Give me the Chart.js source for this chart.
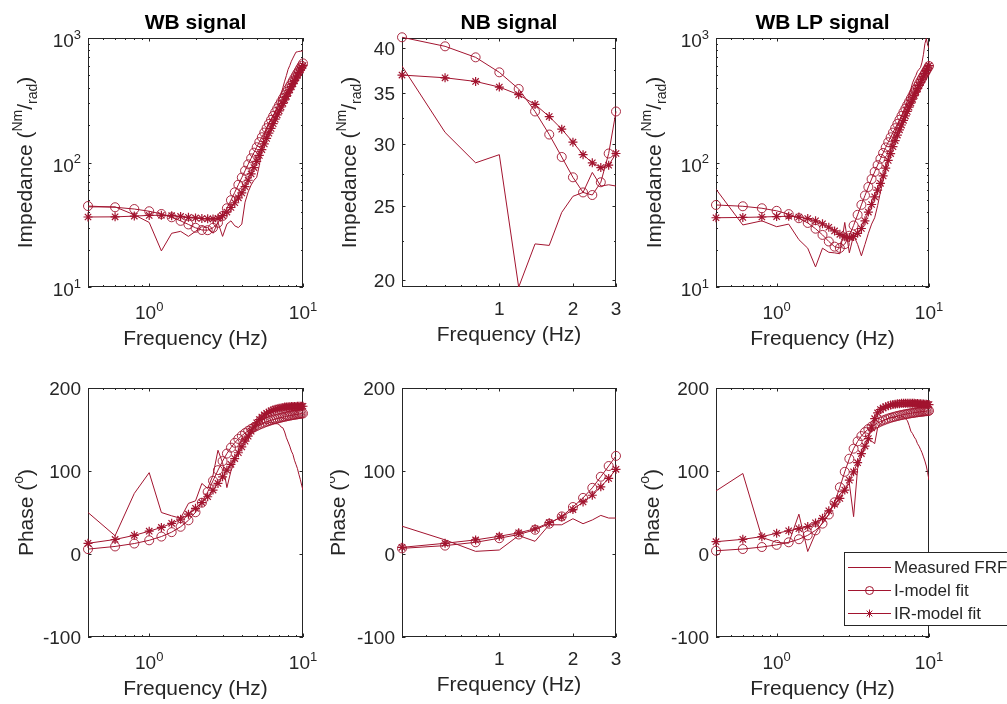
<!DOCTYPE html>
<html>
<head>
<meta charset="utf-8">
<script src="https://cdn.jsdelivr.net/npm/chart.js@4.4.1/dist/chart.umd.min.js"></script>
<style>
  body { margin: 0; background: #fff; width: 1007px; height: 704px; overflow: hidden; position: relative; }
  canvas { position: absolute; }
</style>
</head>
<body>
<canvas id="c1" width="330" height="355" style="left:0;top:0"></canvas>
<canvas id="c2" width="310" height="355" style="left:330px;top:0"></canvas>
<canvas id="c3" width="367" height="355" style="left:640px;top:0"></canvas>
<canvas id="c4" width="330" height="349" style="left:0;top:355px"></canvas>
<canvas id="c5" width="310" height="349" style="left:330px;top:355px"></canvas>
<canvas id="c6" width="367" height="349" style="left:640px;top:355px"></canvas>
<script>
// frequencies (Hz)
const freqWB = [0.4, 0.6, 0.8, 1, 1.2, 1.4, 1.6, 1.8, 2, 2.2, 2.4, 2.6, 2.8, 3, 3.2, 3.4, 3.6, 3.8, 4,
    4.2, 4.4, 4.6, 4.8, 5, 5.2, 5.4, 5.6, 5.8, 6, 6.2, 6.4, 6.6, 6.8, 7, 7.2, 7.4, 7.6, 7.8, 8,
    8.2, 8.4, 8.6, 8.8, 9, 9.2, 9.4, 9.6, 9.8, 10];
const freqNB = [0.4, 0.6, 0.8, 1, 1.2, 1.4, 1.6, 1.8, 2, 2.2, 2.4, 2.6, 2.8, 3];

// WB signal - impedance (Nm/rad)
const wbMagMeasured = [44, 44, 38, 33, 19.5, 27, 28, 25.5, 28, 30.5, 30, 27, 33, 25.5, 32, 34, 31, 30, 32,
    48, 58, 66, 72, 76, 95, 125, 165, 190, 210, 222, 240, 255, 285, 320, 350, 400, 450, 500, 560,
    600, 650, 690, 730, 770, 775, 780, 782, 785, 786];
const wbMagI = [44.7, 43.7, 42.3, 40.6, 38.6, 36.3, 34.0, 31.8, 29.9, 28.7, 28.6, 29.9, 32.8, 37.2, 42.9, 49.8, 57.6, 66.3, 75.7,
    85.8, 96.6, 108, 120, 132.6, 145.8, 159.6, 173.9, 188.7, 204.1, 220.1, 236.5, 253.6, 271.2, 289.3, 307.9, 327.2, 346.9, 367.1, 388,
    409.3, 431.2, 453.5, 476.5, 500, 523.9, 548.5, 573.5, 599.1, 625.2];
const wbMagIR = [36.5, 36.6, 37.1, 37.6, 37.7, 37.4, 36.9, 36.3, 35.9, 35.5, 35.3, 35.2, 35.6, 37.5, 40, 43.5, 47.5, 52, 57,
    64, 72, 81, 91, 102, 114, 127, 141, 156, 172, 188, 205, 223, 241, 260, 279, 299, 319, 340, 362,
    384, 407, 430, 454, 478, 503, 528, 554, 580, 600];

// WB signal - phase (deg)
const wbPhaseMeasured = [50, 22, 73, 98, 50, 46, 43, 61, 64, 85, 79, 95, 125, 110, 80, 100, 112, 125, 140,
    138, 137, 148, 152, 154, 157, 156, 158, 157, 158, 159, 158, 157, 157, 156, 153, 152, 147, 140, 135,
    130, 124, 120, 113, 108, 103, 96, 90, 83, 77];
const wbPhaseI = [5.9, 9.1, 12.6, 16.5, 21.0, 26.3, 32.8, 40.6, 50.3, 61.8, 74.8, 88.3, 101, 111.9, 121, 128.2, 134, 138.7, 142.6,
    145.7, 148.4, 150.7, 152.6, 154.3, 155.8, 157.1, 158.3, 159.3, 160.2, 161.1, 161.9, 162.6, 163.2, 163.8, 164.4, 164.9, 165.4, 165.9, 166.3,
    166.7, 167.1, 167.4, 167.7, 168.1, 168.3, 168.6, 168.9, 169.2, 169.4];
const wbPhaseIR = [12.9, 17.5, 22.5, 27.5, 32, 37, 42, 48, 55, 62, 69, 77, 85, 93, 101, 108, 115, 122, 129,
    136, 142, 148, 153, 158, 162, 165, 167.5, 169.5, 171, 172.5, 173.5, 174.5, 175, 175.5, 176, 176.5, 177, 177, 177.5,
    177.5, 177.6, 177.7, 177.8, 177.8, 177.9, 177.9, 178, 178, 178];

// NB signal
const nbMagMeasured = [37.9, 31.1, 28.4, 29.1, 19.6, 22.3, 22.2, 24.5, 25.7, 26.0, 27.6, 26.5, 26.6, 26.5];
const nbMagI = [41.3, 40.2, 38.9, 37.2, 35.4, 33.1, 30.9, 28.9, 27.2, 26.0, 25.8, 26.8, 29.2, 33.1];
const nbMagIR = [36.9, 36.6, 36.2, 35.6, 34.8, 33.8, 32.6, 31.4, 30.2, 29.1, 28.4, 28.0, 28.2, 29.2];
const nbPhaseMeasured = [33.5, 17, 3.2, 4.8, 22.2, 15.3, 35.2, 35.2, 42.5, 36.5, 41, 46.5, 43.3, 43.3];
const nbPhaseI = [6.8, 10.1, 14.1, 19, 23.5, 29.2, 36.5, 45.3, 56.6, 67.6, 79.7, 93.1, 106, 118.2];
const nbPhaseIR = [8.0, 12.9, 17, 21.4, 25.5, 30.4, 37.7, 44.5, 53.5, 62.7, 70.8, 80.9, 91.1, 102];

// WB LP signal
const lpMagMeasured = [61, 31.5, 34, 30.5, 32, 24, 20.5, 14.5, 20.5, 19, 18.8, 18.5, 33, 18.8, 26, 22, 17.8, 22, 27,
    32, 36, 45, 58, 72, 88, 108, 132, 155, 175, 195, 215, 235, 260, 285, 310, 345, 390, 436, 470,
    500, 540, 560, 580, 640, 740, 900, 990, 880, 830];
const lpMagI = [45.6, 44.5, 42.9, 40.9, 38.5, 35.7, 32.7, 29.4, 26.2, 23.2, 21.1, 20.6, 22.1, 25.8, 31.2, 38.0, 45.7, 54.3, 63.6,
    73.6, 84.1, 95.3, 107, 119.3, 132.1, 145.5, 159.4, 173.8, 188.7, 204.2, 220.2, 236.6, 253.7, 271.2, 289.2, 307.8, 326.8, 346.4, 366.5,
    387.1, 408.3, 429.9, 452, 474.7, 497.9, 521.5, 545.7, 570.4, 595.6];
const lpMagIR = [36, 36.2, 36.5, 36.8, 37, 36.5, 35.5, 34, 32.2, 30.2, 28.2, 26.5, 25.3, 25, 25.5, 27, 29.5, 34, 40,
    46, 53, 60, 68, 78, 90, 104, 118, 134, 150, 166, 183, 200, 218, 237, 257, 278, 300, 322, 345,
    368, 392, 416, 441, 467, 493, 520, 547, 574, 600];
const lpPhaseMeasured = [76, 97, 20, 14, 13, 48, 3, 25, 38, 48, 63, 72, 78, 85, 45, 103, 118, 129, 139,
    136, 133, 152, 157, 160, 162, 163, 165, 164, 165, 166, 164, 166, 165, 163, 161, 155, 148, 145, 141,
    138, 133, 130, 126, 122, 117, 112, 106, 98, 89];
const lpPhaseI = [3.9, 6.0, 8.4, 11.0, 14.1, 17.8, 22.5, 28.5, 36.6, 47.6, 62.3, 80.4, 99.0, 114.8, 126.9, 135.7, 142.1, 146.9, 150.6,
    153.6, 155.9, 157.9, 159.5, 160.9, 162.1, 163.2, 164.1, 164.9, 165.6, 166.3, 166.9, 167.4, 167.9, 168.4, 168.8, 169.2, 169.6, 169.9, 170.2,
    170.5, 170.8, 171.0, 171.3, 171.5, 171.7, 171.9, 172.1, 172.3, 172.5];
const lpPhaseIR = [14.8, 17.7, 20.9, 25, 28, 30.5, 33, 37.5, 43, 52, 60, 67, 77, 89, 99, 110, 121, 130, 139,
    152, 163, 170, 174, 176, 177.5, 178.5, 179.5, 180, 180.5, 181, 181, 181.5, 181.5, 181.5, 181.5, 181.5, 181.5, 181.5, 181.5,
    181.3, 181.2, 181, 181, 180.8, 180.6, 180.5, 180.3, 180.1, 180];

// ticks
const wbFreqTicks = [1, 10];                 // shown as 10^0, 10^1
const wbFreqMinor = [0.5, 0.6, 0.7, 0.8, 0.9, 2, 3, 4, 5, 6, 7, 8, 9];
const nbFreqTicks = [1, 2, 3];
const nbFreqMinor = [0.5, 0.6, 0.7, 0.8, 0.9];
const magTicks = [10, 100, 1000];            // shown as 10^1 .. 10^3
const magMinor = [20, 30, 40, 50, 60, 70, 80, 90, 200, 300, 400, 500, 600, 700, 800, 900];
const nbMagTicks = [20, 25, 30, 35, 40];
const nbMagMinor = [22.5, 27.5, 32.5, 37.5];
const phaseTicks = [-100, 0, 100, 200];

const legendLabels = ['Measured FRF', 'I-model fit', 'IR-model fit'];

const RED = '#a2142f';
const AXIS = '#262626';
const FAMILY = "'Liberation Sans', Arial, Helvetica, sans-serif";

const impLabel = [
    { t: 'Impedance (', px: 21 }, { t: 'Nm', px: 14, dy: -10 }, { t: '/', px: 21 },
    { t: 'rad', px: 14, dy: 5 }, { t: ')', px: 21 }
];
const phaseLabel = [{ t: 'Phase (', px: 21 }, { t: 'o', px: 14, dy: -10 }, { t: ')', px: 21 }];

function font(px, bold) {
    return (bold ? 'bold ' : '') + px + 'px ' + FAMILY;
}

// draw a run of text pieces (for superscripts / subscripts)
function drawRuns(ctx, runs, x, y, align) {
    let w = 0;
    const widths = runs.map(r => {
        ctx.font = font(r.px, r.bold);
        const m = ctx.measureText(r.t).width;
        w += m;
        return m;
    });
    let cx = align === 'center' ? x - w / 2 : align === 'right' ? x - w : x;
    ctx.textAlign = 'left';
    ctx.textBaseline = 'alphabetic';
    runs.forEach((r, i) => {
        ctx.font = font(r.px, r.bold);
        ctx.fillText(r.t, cx, y + (r.dy || 0));
        cx += widths[i];
    });
}

function tickRuns(v, pow) {
    if (pow) return [{ t: '10', px: 19 }, { t: String(Math.round(Math.log10(v))), px: 13, dy: -8.5 }];
    return [{ t: String(v), px: 19 }];
}

function drawMarker(ctx, style, x, y, r) {
    ctx.beginPath();
    if (style === 'circle') {
        ctx.arc(x, y, r, 0, Math.PI * 2);
    } else if (style === 'star') {
        for (let k = 0; k < 4; k++) {
            const a = k * Math.PI / 4;
            ctx.moveTo(x - r * Math.cos(a), y - r * Math.sin(a));
            ctx.lineTo(x + r * Math.cos(a), y + r * Math.sin(a));
        }
    }
    ctx.stroke();
}

function axesPlugin(p) {
    return {
        id: 'matlabAxes',
        beforeDatasetsDraw(chart) {
            const { ctx, chartArea: a } = chart;
            const sx = chart.scales.x, sy = chart.scales.y;
            ctx.save();
            ctx.strokeStyle = AXIS;
            ctx.lineWidth = 1;
            ctx.beginPath();
            const xTick = (v, len) => {
                const px = Math.round(sx.getPixelForValue(v)) + 0.5;
                ctx.moveTo(px, a.bottom); ctx.lineTo(px, a.bottom - len);
                ctx.moveTo(px, a.top); ctx.lineTo(px, a.top + len);
            };
            const yTick = (v, len) => {
                const py = Math.round(sy.getPixelForValue(v)) + 0.5;
                ctx.moveTo(a.left, py); ctx.lineTo(a.left + len, py);
                ctx.moveTo(a.right, py); ctx.lineTo(a.right - len, py);
            };
            p.xTicks.forEach(v => xTick(v, 3.5));
            p.xMinor.forEach(v => xTick(v, 2));
            p.yTicks.forEach(v => yTick(v, 3.5));
            p.yMinor.forEach(v => yTick(v, 2));
            ctx.stroke();
            ctx.strokeRect(a.left + 0.5, a.top + 0.5, a.right - a.left - 1, a.bottom - a.top - 1);
            ctx.restore();
        },
        afterDraw(chart) {
            const { ctx, chartArea: a } = chart;
            const sx = chart.scales.x, sy = chart.scales.y;
            ctx.save();
            ctx.fillStyle = AXIS;

            // tick labels
            p.xTicks.forEach(v => {
                drawRuns(ctx, tickRuns(v, p.xPow), sx.getPixelForValue(v), a.bottom + (p.xPow ? 32 : 28), 'center');
            });
            p.yTicks.forEach(v => {
                drawRuns(ctx, tickRuns(v, p.yPow), a.left - 7, sy.getPixelForValue(v) + (p.yPow ? 9 : 7), 'right');
            });

            // axis titles
            drawRuns(ctx, [{ t: 'Frequency (Hz)', px: 21 }], (a.left + a.right) / 2, a.bottom + (p.xPow ? 58 : 54), 'center');
            ctx.save();
            ctx.translate(a.left - p.yGap, (a.top + a.bottom) / 2);
            ctx.rotate(-Math.PI / 2);
            drawRuns(ctx, p.yLabel, 0, 0, 'center');
            ctx.restore();

            if (p.title) {
                ctx.fillStyle = '#000';
                drawRuns(ctx, [{ t: p.title, px: 21, bold: true }], (a.left + a.right) / 2, a.top - 9, 'center');
            }

            if (p.legend) {
                // legend box in canvas coordinates (runs off the right edge)
                const bx = 204, by = 197, bw = 200, bh = 73;
                ctx.fillStyle = '#fff';
                ctx.fillRect(bx, by, bw, bh);
                ctx.strokeStyle = AXIS;
                ctx.lineWidth = 1;
                ctx.strokeRect(bx + 0.5, by + 0.5, bw, bh);
                const styles = [null, 'circle', 'star'];
                legendLabels.forEach((lab, i) => {
                    const ly = by + 15 + i * 23;
                    ctx.strokeStyle = RED;
                    ctx.lineWidth = 1;
                    ctx.beginPath();
                    ctx.moveTo(bx + 4, ly + 0.5);
                    ctx.lineTo(bx + 47, ly + 0.5);
                    ctx.stroke();
                    if (styles[i]) drawMarker(ctx, styles[i], bx + 25.5, ly + 0.5, 4);
                    ctx.fillStyle = AXIS;
                    drawRuns(ctx, [{ t: lab, px: 17 }], bx + 50, ly + 6, 'left');
                });
            }
            ctx.restore();
        }
    };
}

function points(freq, vals) {
    return vals.map((v, i) => ({ x: freq[i], y: v }));
}

function makeDatasets(freq, meas, fitI, fitIR) {
    return [
        { label: legendLabels[0], data: points(freq, meas), borderColor: RED, borderWidth: 1, pointRadius: 0, fill: false, order: 3 },
        { label: legendLabels[1], data: points(freq, fitI), borderColor: RED, borderWidth: 1, fill: false, order: 2,
          pointStyle: 'circle', pointRadius: 4.5, pointBorderWidth: 0.9, pointBackgroundColor: 'rgba(0,0,0,0)', pointBorderColor: RED, clip: 8 },
        { label: legendLabels[2], data: points(freq, fitIR), borderColor: RED, borderWidth: 1, fill: false, order: 1,
          pointStyle: 'star', pointRadius: 4.5, pointBorderWidth: 1.2, pointBackgroundColor: RED, pointBorderColor: RED, clip: 8 }
    ];
}

function makePanel(p) {
    new Chart(document.getElementById(p.id), {
        type: 'line',
        data: { datasets: makeDatasets(p.freq, p.series[0], p.series[1], p.series[2]) },
        options: {
            responsive: false,
            animation: false,
            events: [],
            layout: { padding: p.pad },
            scales: {
                x: { type: 'logarithmic', display: false, min: p.xMin, max: p.xMax },
                y: { type: p.yType, display: false, min: p.yMin, max: p.yMax }
            },
            plugins: { legend: { display: false }, tooltip: { enabled: false } }
        },
        plugins: [axesPlugin(p)]
    });
}

const wbX = { freq: freqWB, xMin: 0.4, xMax: 10, xTicks: wbFreqTicks, xMinor: wbFreqMinor, xPow: true };
const nbX = { freq: freqNB, xMin: 0.4, xMax: 3, xTicks: nbFreqTicks, xMinor: nbFreqMinor, xPow: false };
const magY = { yType: 'logarithmic', yMin: 10, yMax: 1000, yTicks: magTicks, yMinor: magMinor, yPow: true, yLabel: impLabel };
const nbMagY = { yType: 'logarithmic', yMin: 19.61, yMax: 41.21, yTicks: nbMagTicks, yMinor: nbMagMinor, yPow: false, yLabel: impLabel };
const phaseY = { yType: 'linear', yMin: -100, yMax: 200, yTicks: phaseTicks, yMinor: [], yPow: false, yLabel: phaseLabel };

makePanel({ id: 'c1', title: 'WB signal', ...wbX, ...magY, yGap: 56,
    pad: { left: 88, right: 27, top: 38, bottom: 68 }, series: [wbMagMeasured, wbMagI, wbMagIR] });
makePanel({ id: 'c2', title: 'NB signal', ...nbX, ...nbMagY, yGap: 46,
    pad: { left: 72, right: 24, top: 38, bottom: 68 }, series: [nbMagMeasured, nbMagI, nbMagIR] });
makePanel({ id: 'c3', title: 'WB LP signal', ...wbX, ...magY, yGap: 55,
    pad: { left: 76, right: 78, top: 38, bottom: 68 }, series: [lpMagMeasured, lpMagI, lpMagIR] });
makePanel({ id: 'c4', ...wbX, ...phaseY, yGap: 55,
    pad: { left: 88, right: 27, top: 33, bottom: 67 }, series: [wbPhaseMeasured, wbPhaseI, wbPhaseIR] });
makePanel({ id: 'c5', ...nbX, ...phaseY, yGap: 57,
    pad: { left: 72, right: 24, top: 33, bottom: 67 }, series: [nbPhaseMeasured, nbPhaseI, nbPhaseIR] });
makePanel({ id: 'c6', ...wbX, ...phaseY, yGap: 57, legend: true,
    pad: { left: 76, right: 78, top: 33, bottom: 67 }, series: [lpPhaseMeasured, lpPhaseI, lpPhaseIR] });
</script>
</body>
</html>
